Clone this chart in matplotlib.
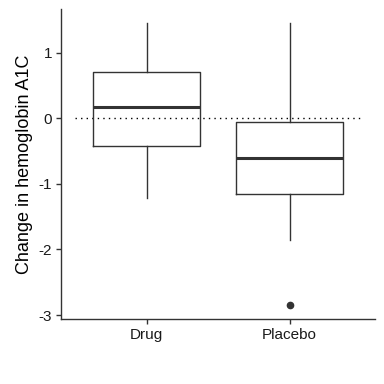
import matplotlib
matplotlib.use("Agg")
import matplotlib.pyplot as plt

# ---------- Data ----------
groups     = ["Drug", "Placebo"]
whisk_lo   = [-1.21, -1.86]
q1         = [-0.42, -1.16]
medians    = [0.17, -0.61]
q3         = [0.71, -0.06]
whisk_hi   = [1.455, 1.455]
outliers   = [[], [-2.85]]
ref_line   = 0.0

plt.rcParams["font.family"] = ["Liberation Sans", "DejaVu Sans"]
plt.rcParams["axes.unicode_minus"] = False

fig = plt.figure(figsize=(3.84, 3.84), dpi=100)
ax = fig.add_axes([0.159, 0.1685, 0.818, 0.8085])

stats = []
for i, g in enumerate(groups):
    stats.append({
        "label": g, "whislo": whisk_lo[i], "q1": q1[i], "med": medians[i],
        "q3": q3[i], "whishi": whisk_hi[i], "fliers": outliers[i],
    })

line_col = "#333333"
ax.bxp(stats, positions=[1, 2], widths=0.75, showcaps=False,
       boxprops=dict(color=line_col, linewidth=1.0),
       whiskerprops=dict(color=line_col, linewidth=1.0),
       medianprops=dict(color=line_col, linewidth=2.2),
       flierprops=dict(marker="o", markersize=4.5, markerfacecolor=line_col,
                       markeredgecolor=line_col))

ax.hlines(ref_line, 0.5, 2.5, colors="black", linestyles=(0, (1, 3)), linewidth=1.0,
          zorder=1)

ax.set_xlim(0.4, 2.6)
ax.set_ylim(-3.065, 1.67)
ax.set_yticks([-3, -2, -1, 0, 1])
ax.set_xticks([1, 2])
ax.set_xticklabels(groups)
ax.set_ylabel("Change in hemoglobin A1C", fontsize=13, labelpad=4)

for side in ("top", "right"):
    ax.spines[side].set_visible(False)
for side in ("left", "bottom"):
    ax.spines[side].set_color(line_col)
    ax.spines[side].set_linewidth(1.0)
ax.tick_params(axis="both", labelsize=11, color=line_col, length=3.5, width=1.0,
               labelcolor="#1a1a1a", pad=3)

fig.savefig("out.png", dpi=100)
